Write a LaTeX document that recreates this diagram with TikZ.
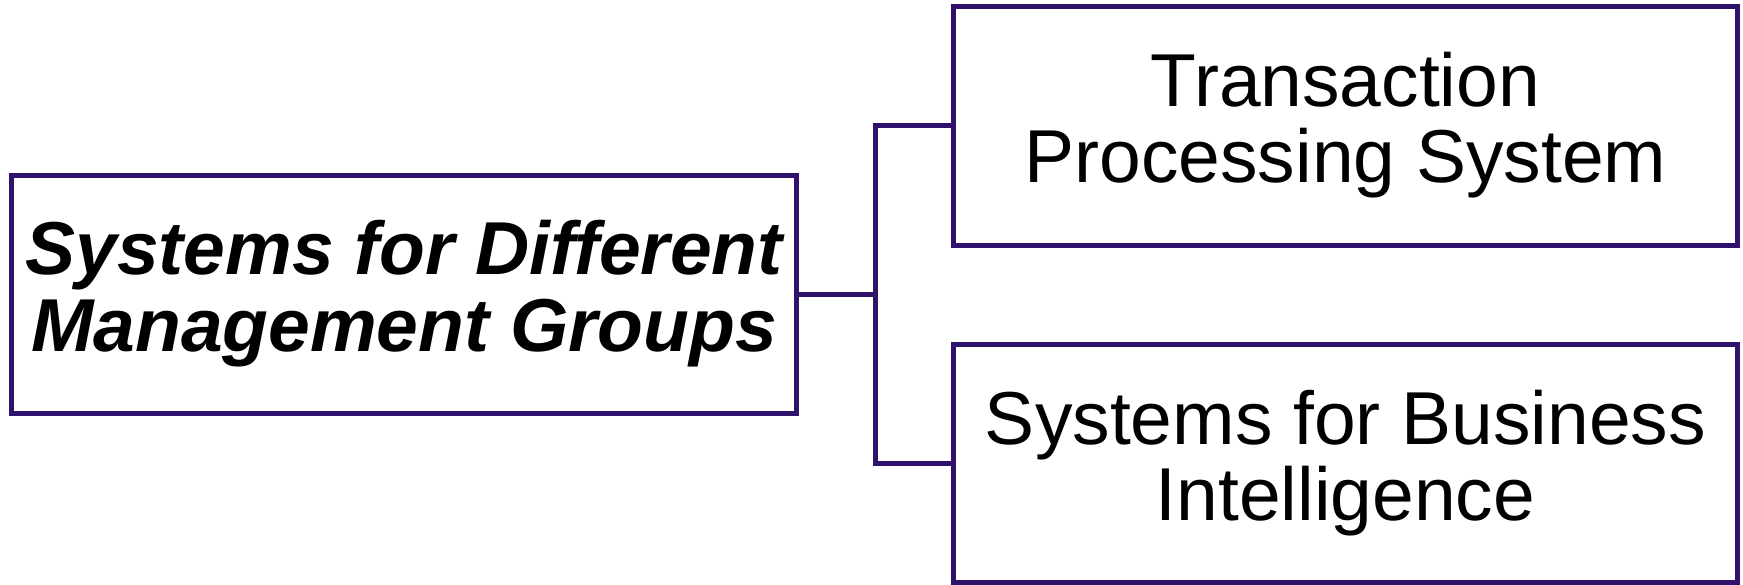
\documentclass[tikz,border=0pt]{standalone}
\usepackage{fontspec}
\setmainfont{Liberation Sans}
\definecolor{framepurple}{RGB}{48,18,108}
\begin{document}
\begin{tikzpicture}[x=1pt,y=-1pt,
  box/.style={draw=framepurple,line width=5pt,rectangle,inner sep=0pt,
    align=center,text=black},
  link/.style={draw=framepurple,line width=5pt}]
\useasboundingbox (0,0) rectangle (1743,584);
\node[box,minimum width=785pt,minimum height=238pt,
  font=\fontsize{75}{77}\selectfont\bfseries\itshape] (groups) at (404,294)
  {Systems for Different\\Management Groups};
\node[box,minimum width=784pt,minimum height=239pt,
  font=\fontsize{75}{76}\selectfont] (tps) at (1345.5,125.5)
  {Transaction\\Processing System};
\node[box,minimum width=784pt,minimum height=238pt,
  font=\fontsize{75}{76}\selectfont] (bi) at (1345.5,463)
  {Systems for Business\\Intelligence};
\coordinate (fork) at (875,294);
\draw[link] (groups.east) -- (fork);
\draw[link] (tps.west) -| (fork) |- (bi.west);
\end{tikzpicture}
\end{document}
